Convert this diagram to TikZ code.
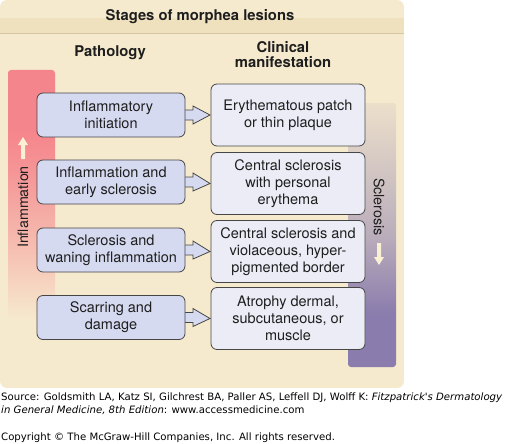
\documentclass[tikz,border=0pt]{standalone}
\usepackage{fontspec}
\setmainfont{TeX Gyre Heros}
\newfontfamily\footfont{DejaVu Sans}
\usetikzlibrary{calc}
\definecolor{bg}{RGB}{246,234,206}
\definecolor{bandc}{RGB}{240,225,190}
\definecolor{bandline}{RGB}{215,200,165}
\definecolor{redc}{RGB}{245,133,140}
\definecolor{purp}{RGB}{138,124,172}
\definecolor{lbox}{RGB}{214,218,240}
\definecolor{rbox}{RGB}{236,236,247}
\definecolor{edge}{RGB}{70,70,70}
\definecolor{txt}{RGB}{30,30,30}
\definecolor{cream}{RGB}{250,240,212}
\pgfdeclareverticalshading{inflamshade}{100bp}{color(0bp)=(bg); color(25bp)=(bg); color(40bp)=(redc!45!bg); color(55bp)=(redc!85!bg); color(63bp)=(redc); color(100bp)=(redc)}
\pgfdeclareverticalshading{sclershade}{100bp}{color(0bp)=(purp); color(35bp)=(purp); color(50bp)=(purp!55!bg); color(75bp)=(bg!90!purp); color(100bp)=(bg!90!purp)}
\tikzset{
  lstage/.style={draw=edge, line width=0.8pt, fill=lbox, rounded corners=6pt,
    minimum width=148pt, minimum height=44pt, align=center, text=txt,
    font=\fontsize{14.5}{16.7}\selectfont, inner sep=0pt},
  rstage/.style={draw=edge, line width=0.8pt, fill=rbox, rounded corners=6pt,
    minimum width=154pt, minimum height=62pt, align=center, text=txt,
    font=\fontsize{14.5}{16.7}\selectfont, inner sep=0pt},
  fatarrow/.style={draw=edge, line width=0.8pt, fill=lbox, line join=miter},
  headtext/.style={font=\bfseries\fontsize{14.8}{15.5}\selectfont, text=txt, align=center},
  sidetext/.style={font=\fontsize{14.3}{15}\selectfont, text=txt},
  foot/.style={font=\footfont\fontsize{10.15}{11}\selectfont, text=black, anchor=west, inner sep=0pt}
}
\begin{document}
\begin{tikzpicture}[x=1pt,y=-1pt]
\useasboundingbox (0,0) rectangle (506,444);
\fill[white] (0,0) rectangle (506,444);
% panel
\begin{scope}
\clip[rounded corners=7pt] (0,0) rectangle (404,388);
\fill[bg] (0,0) rectangle (404,388);
\fill[bandc] (0,18) rectangle (404,33);
\draw[bandline, line width=1pt] (0,33.5) -- (404,33.5);
\end{scope}
\node[headtext] (title) at (200,16.5) {Stages of morphea lesions};
\node[headtext] (path) at (110,53) {Pathology};
\node[headtext] (clin) at (283,54.5) {Clinical\\manifestation};
% side bars
\shade[shading=inflamshade, rounded corners=3pt] (8,70) rectangle (55,320);
\shade[shading=sclershade, rounded corners=3pt] (348,103) rectangle (396,367);
\node[sidetext, rotate=90] (infl) at (23,207) {Inflammation};
\node[sidetext, rotate=-90] (scl) at (379,207) {Sclerosis};
\coordinate (ua) at (23,137);
\fill[cream] ($(ua)+(0,0)$) -- ++(5,8) -- ++(-3,0) -- ++(0,14) -- ++(-4,0) -- ++(0,-14) -- ++(-3,0) -- cycle;
\coordinate (da) at (379,265);
\fill[cream] ($(da)+(0,0)$) -- ++(5,-8) -- ++(-3,0) -- ++(0,-14) -- ++(-4,0) -- ++(0,14) -- ++(-3,0) -- cycle;
% stage nodes (positions)
\coordinate (pl1) at (111,115);
\coordinate (pl2) at (111,182);
\coordinate (pl3) at (111,250);
\coordinate (pl4) at (111,317.5);
\coordinate (pr1) at (288,115);
\coordinate (pr2) at (288,183.5);
\coordinate (pr3) at (288,251.5);
\coordinate (pr4) at (288,318.5);
% arrows first (so boxes cover their tails)
\foreach \i in {1,2,3,4}{
  \draw[fatarrow] ($(pl\i)+(70,-5)$) -- ($(pl\i)+(82,-5)$) -- ($(pl\i)+(82,-9)$)
    -- ($(pr\i)+(-78,0)$) -- ($(pl\i)+(82,9)$) -- ($(pl\i)+(82,5)$) -- ($(pl\i)+(70,5)$) -- cycle;
}
\node[lstage] (l1) at (pl1) {Inflammatory\\initiation};
\node[lstage] (l2) at (pl2) {Inflammation and\\early sclerosis};
\node[lstage] (l3) at (pl3) {Sclerosis and\\waning inflammation};
\node[lstage] (l4) at (pl4) {Scarring and\\damage};
\node[rstage] (r1) at (pr1) {Erythematous patch\\or thin plaque};
\node[rstage] (r2) at (pr2) {Central sclerosis\\with personal\\erythema};
\node[rstage] (r3) at (pr3) {Central sclerosis and\\violaceous, hyper-\\pigmented border};
\node[rstage] (r4) at (pr4) {Atrophy dermal,\\subcutaneous, or\\muscle};
% footer
\node[foot] (src1) at (1,398) {Source: Goldsmith LA, Katz SI, Gilchrest BA, Paller AS, Leffell DJ, Wolff K: \textit{Fitzpatrick's Dermatology}};
\node[foot] (src2) at (1,410) {\textit{in General Medicine, 8th Edition}: www.accessmedicine.com};
\node[foot] (copy) at (1,438) {Copyright © The McGraw-Hill Companies, Inc. All rights reserved.};
\end{tikzpicture}
\end{document}
